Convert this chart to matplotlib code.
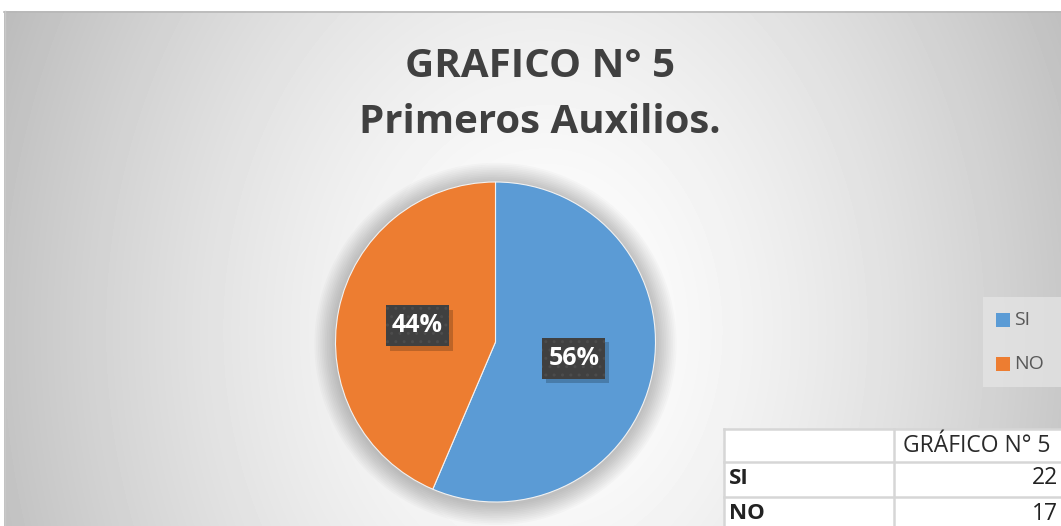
import numpy as np
import matplotlib
matplotlib.use('Agg')
import matplotlib.pyplot as plt
from matplotlib.patches import Rectangle, Circle

# data
labels = ["SI", "NO"]
counts = [22, 17]
colors = ["#5B9BD5", "#ED7D31"]
title_lines = ["GRAFICO N° 5", "Primeros Auxilios."]
table_header = "GRÁFICO N° 5"

plt.rcParams['font.family'] = ['Open Sans', 'DejaVu Sans']

W, H = 1061, 526
fig = plt.figure(figsize=(W / 100, H / 100), dpi=100)
fig.patch.set_facecolor('white')

# background (pixel coords, y down)
bg = fig.add_axes([0, 0, 1, 1])
bg.set_xlim(0, W)
bg.set_ylim(H, 0)
bg.axis('off')

xx, yy = np.meshgrid(np.arange(4, W), np.arange(11, H))
d = np.sqrt(((xx - 545) / 550.0) ** 2 + ((yy - 330) / 700.0) ** 2)
shade = np.clip(255 - 60 * d ** 1.5, 170, 255) / 255.0
bg.imshow(shade, cmap='gray', vmin=0, vmax=1, extent=(4, W, H, 11),
          interpolation='bilinear', aspect='auto', zorder=0)
bg.plot([4, W], [11.5, 11.5], color='#b8b8b8', lw=1.2, zorder=1)
bg.plot([4.5, 4.5], [11, H], color='#c8c8c8', lw=1.0, zorder=1)

# title
bg.text(540, 77, title_lines[0], ha='center', va='baseline', fontsize=29,
        fontweight='bold', color='#404040', zorder=2)
bg.text(540, 133, title_lines[1], ha='center', va='baseline', fontsize=29,
        fontweight='bold', color='#404040', zorder=2)

# legend
bg.add_patch(Rectangle((983, 297), 90, 90, fc='#e6e6e6', ec='none', alpha=0.7, zorder=2))
for i, lab in enumerate(labels):
    yc = 320 + i * 44
    bg.add_patch(Rectangle((996, yc - 7), 14, 14, fc=colors[i], ec='none', zorder=3))
    bg.text(1014, yc, lab, ha='left', va='center', fontsize=14,
            color='#595959', zorder=3)

# table
tx0, tcol = 724, 894
rows_y = [429, 462, 497, 532]
bg.add_patch(Rectangle((tx0, rows_y[0]), W - tx0 + 5, H - rows_y[0] + 5,
                       fc='white', ec='none', zorder=2))
for y in rows_y:
    bg.plot([tx0, W], [y, y], color='#d6d6d6', lw=1.8, zorder=3)
bg.plot([tx0, tx0], [rows_y[0], H], color='#d6d6d6', lw=1.8, zorder=3)
bg.plot([tcol, tcol], [rows_y[0], H], color='#d6d6d6', lw=1.8, zorder=3)
bg.text(903, (rows_y[0] + rows_y[1]) / 2 + 1, table_header, ha='left', va='center',
        fontsize=16.5, fontweight='medium', color='#2a2a2a', zorder=4)
for i, lab in enumerate(labels):
    ymid = (rows_y[i + 1] + rows_y[i + 2]) / 2 - 1
    bg.text(729, ymid, lab, ha='left', va='center', fontsize=16,
            fontweight='bold', color='#222222', zorder=4)
    bg.text(1058, ymid, str(counts[i]), ha='right', va='center', fontsize=16.5,
            fontweight='medium', color='#222222', zorder=4)

# pie
cx, cy, r = 495.5, 342, 160
ax = fig.add_axes([(cx - r) / W, (H - cy - r) / H, 2 * r / W, 2 * r / H])
ax.axis('off')
for k in range(12):
    ax.add_patch(Circle((0.0, -0.012), 1.0 + 0.011 * (k + 1), fc='#000000',
                        alpha=0.02, ec='none', zorder=0, clip_on=False))
wedges, texts, autotexts = ax.pie(
    counts, colors=colors, startangle=90, counterclock=False,
    autopct=lambda p: '%d%%' % round(p), pctdistance=0.5,
    wedgeprops=dict(linewidth=0.8, edgecolor='#f2f2f2'),
    textprops=dict(color='white', fontsize=18, fontweight='bold'))
for w in wedges:
    w.set_zorder(2)
ax.set_xlim(-1, 1)
ax.set_ylim(-1, 1)

bw, bh = 63 / r, 41 / r
for t in autotexts:
    x, y = t.get_position()
    t.set_zorder(6)
    ax.add_patch(Rectangle((x - bw / 2 + 0.025, y - bh / 2 - 0.03), bw, bh,
                           fc='#000000', alpha=0.2, ec='none', zorder=3))
    ax.add_patch(Rectangle((x - bw / 2, y - bh / 2), bw, bh, fc='#404040',
                           ec='#4c4c4c', lw=0, hatch='..', zorder=4))

fig.savefig('out.png', dpi=100)
